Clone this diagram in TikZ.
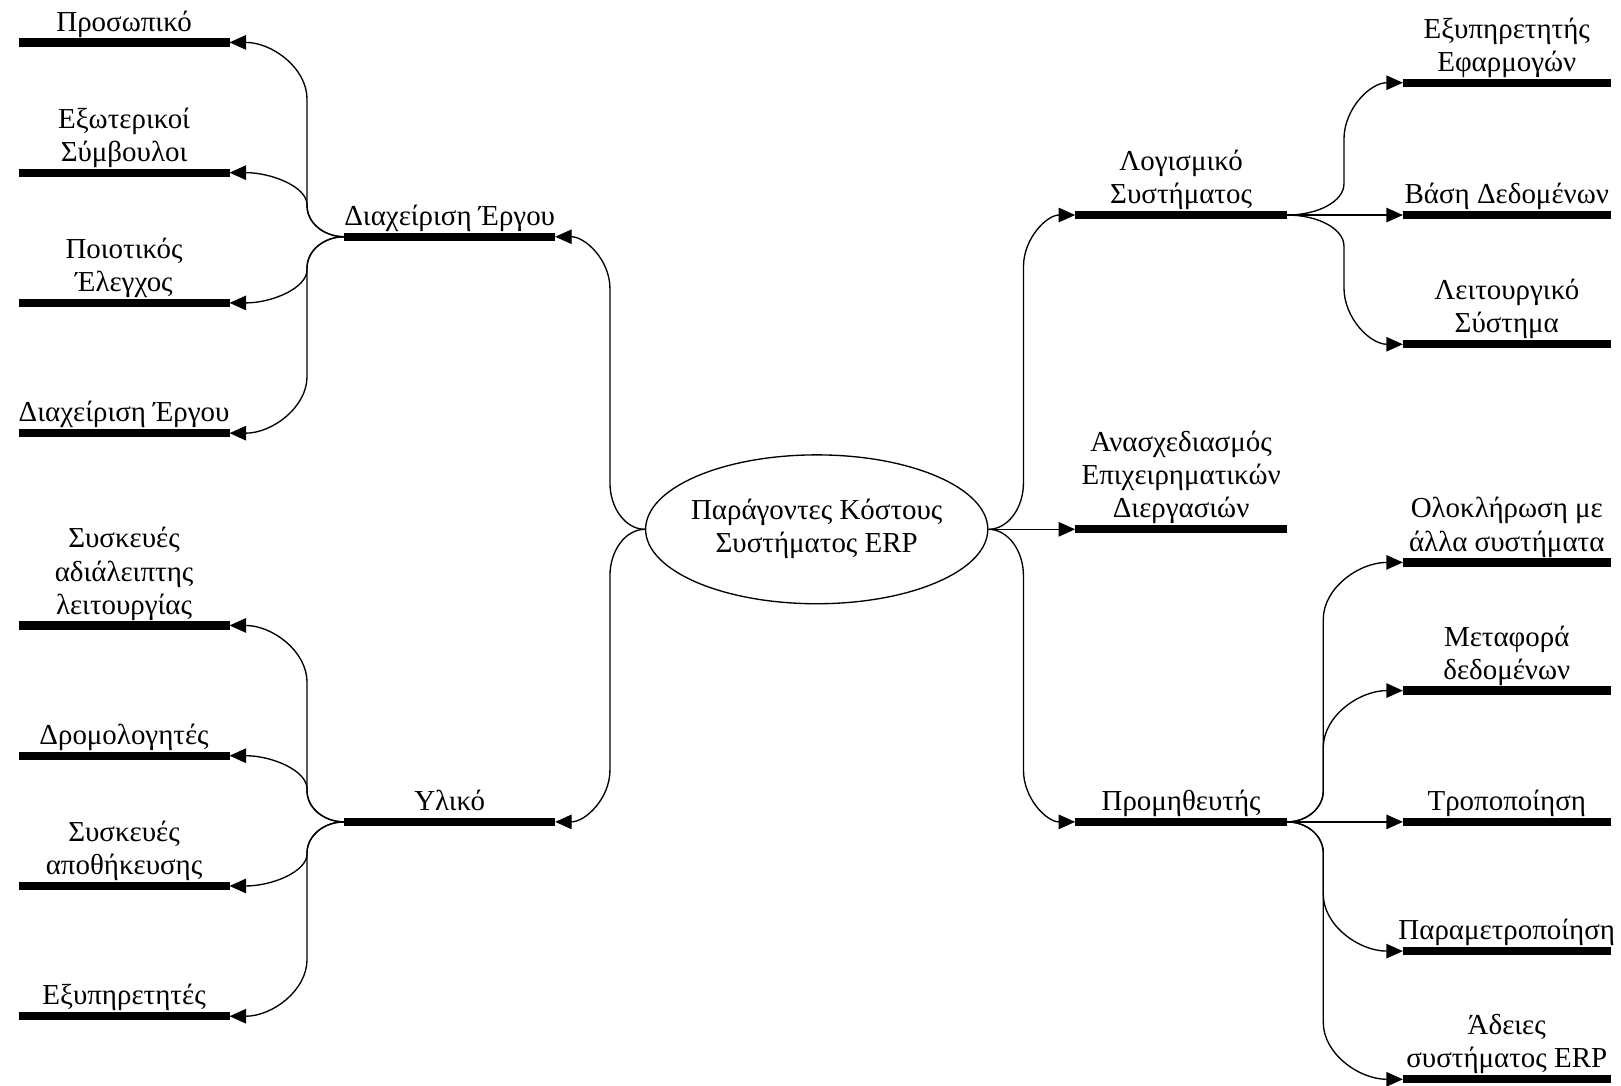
\documentclass[tikz,border=0pt]{standalone}
\usepackage{fontspec}
\setmainfont{Liberation Serif}
\usetikzlibrary{arrows.meta,calc,shapes.geometric}
\tikzset{
  barline/.style={line width=8pt},
  link/.style={line width=1.3pt,-{Triangle[length=16pt,width=14pt]}},
  lbl/.style={font=\fontsize{28}{32}\selectfont,align=center,inner sep=0pt,anchor=base},
  hub/.style={draw,ellipse,line width=1.3pt,minimum width=331pt,minimum height=144pt,
    inner xsep=-60pt,inner ysep=-30pt,align=center,font=\fontsize{28}{32}\selectfont}
}
\newcommand\mkbar[5]{%
  \coordinate (#1w) at (#2,#4);
  \coordinate (#1e) at (#3,#4);
  \draw[barline] (#1w) -- (#1e);
  \node[lbl] (#1t) at ({(#2+#3)/2},#4-11) {#5};}
\newcommand\conn[5]{%
  \draw[link] let \p1=(#1), \p2=(#2), \n1={abs(\y2-\y1)/2}, \n2={min(\n1,#4)},
    \n3={min(\n1,#5)}, \n4={sign(\y2-\y1)} in
    (\p1) .. controls ({\x1+0.55*(#3-\x1)},\y1) and (#3,{\y1+0.45*\n4*\n2}) .. (#3,{\y1+\n4*\n2})
    -- (#3,{\y2-\n4*\n3})
    .. controls (#3,{\y2-0.45*\n4*\n3}) and ({\x2+0.55*(#3-\x2)},\y2) .. (\p2);}
\begin{document}
\begin{tikzpicture}[x=1pt,y=-1pt]
\useasboundingbox (0,0) rectangle (1568,1050);
% left leaves
\mkbar{L1}{18}{222}{41}{Προσωπικό}
\mkbar{L2}{18}{222}{167}{Εξωτερικοί\\Σύμβουλοι}
\mkbar{L3}{18}{222}{293}{Ποιοτικός\\Έλεγχος}
\mkbar{L4}{18}{222}{419}{Διαχείριση Έργου}
\mkbar{L5}{18}{222}{605}{Συσκευές\\αδιάλειπτης\\λειτουργίας}
\mkbar{L6}{18}{222}{731}{Δρομολογητές}
\mkbar{L7}{18}{222}{857}{Συσκευές\\αποθήκευσης}
\mkbar{L8}{18}{222}{983}{Εξυπηρετητές}
% left middle
\mkbar{M1}{333}{537}{229}{Διαχείριση Έργου}
\mkbar{M2}{333}{537}{795}{Υλικό}
% right middle
\mkbar{R1}{1040}{1245}{208}{Λογισμικό\\Συστήματος}
\mkbar{R2}{1040}{1245}{512}{Ανασχεδιασμός\\Επιχειρηματικών\\Διεργασιών}
\mkbar{R3}{1040}{1245}{795}{Προμηθευτής}
% right leaves
\mkbar{S1}{1357}{1558}{80}{Εξυπηρετητής\\Εφαρμογών}
\mkbar{S2}{1357}{1558}{208}{Βάση Δεδομένων}
\mkbar{S3}{1357}{1558}{333}{Λειτουργικό\\Σύστημα}
\mkbar{S4}{1357}{1558}{544}{Ολοκλήρωση με\\άλλα συστήματα}
\mkbar{S5}{1357}{1558}{668}{Μεταφορά\\δεδομένων}
\mkbar{S6}{1357}{1558}{795}{Τροποποίηση}
\mkbar{S7}{1357}{1558}{920}{Παραμετροποίηση}
\mkbar{S8}{1357}{1558}{1044}{Άδειες\\συστήματος ERP}
% hub
\node[hub] (hub) at (790,512) {Παράγοντες Κόστους\\Συστήματος ERP};
% connectors from hub
\conn{hub.west}{M1e}{590pt}{45}{50}
\conn{hub.west}{M2e}{590pt}{45}{50}
\conn{hub.east}{R1w}{990pt}{45}{50}
\conn{hub.east}{R2w}{990pt}{45}{50}
\conn{hub.east}{R3w}{990pt}{45}{50}
% left branches
\conn{M1w}{L1e}{297pt}{30}{55}
\conn{M1w}{L2e}{297pt}{30}{55}
\conn{M1w}{L3e}{297pt}{30}{55}
\conn{M1w}{L4e}{297pt}{30}{55}
\conn{M2w}{L5e}{297pt}{30}{55}
\conn{M2w}{L6e}{297pt}{30}{55}
\conn{M2w}{L7e}{297pt}{30}{55}
\conn{M2w}{L8e}{297pt}{30}{55}
% right branches
\conn{R1e}{S1w}{1300pt}{30}{55}
\conn{R1e}{S2w}{1300pt}{30}{55}
\conn{R1e}{S3w}{1300pt}{30}{55}
\conn{R3e}{S4w}{1280pt}{30}{55}
\conn{R3e}{S5w}{1280pt}{30}{55}
\conn{R3e}{S6w}{1280pt}{30}{55}
\conn{R3e}{S7w}{1280pt}{30}{55}
\conn{R3e}{S8w}{1280pt}{30}{55}
\end{tikzpicture}
\end{document}
